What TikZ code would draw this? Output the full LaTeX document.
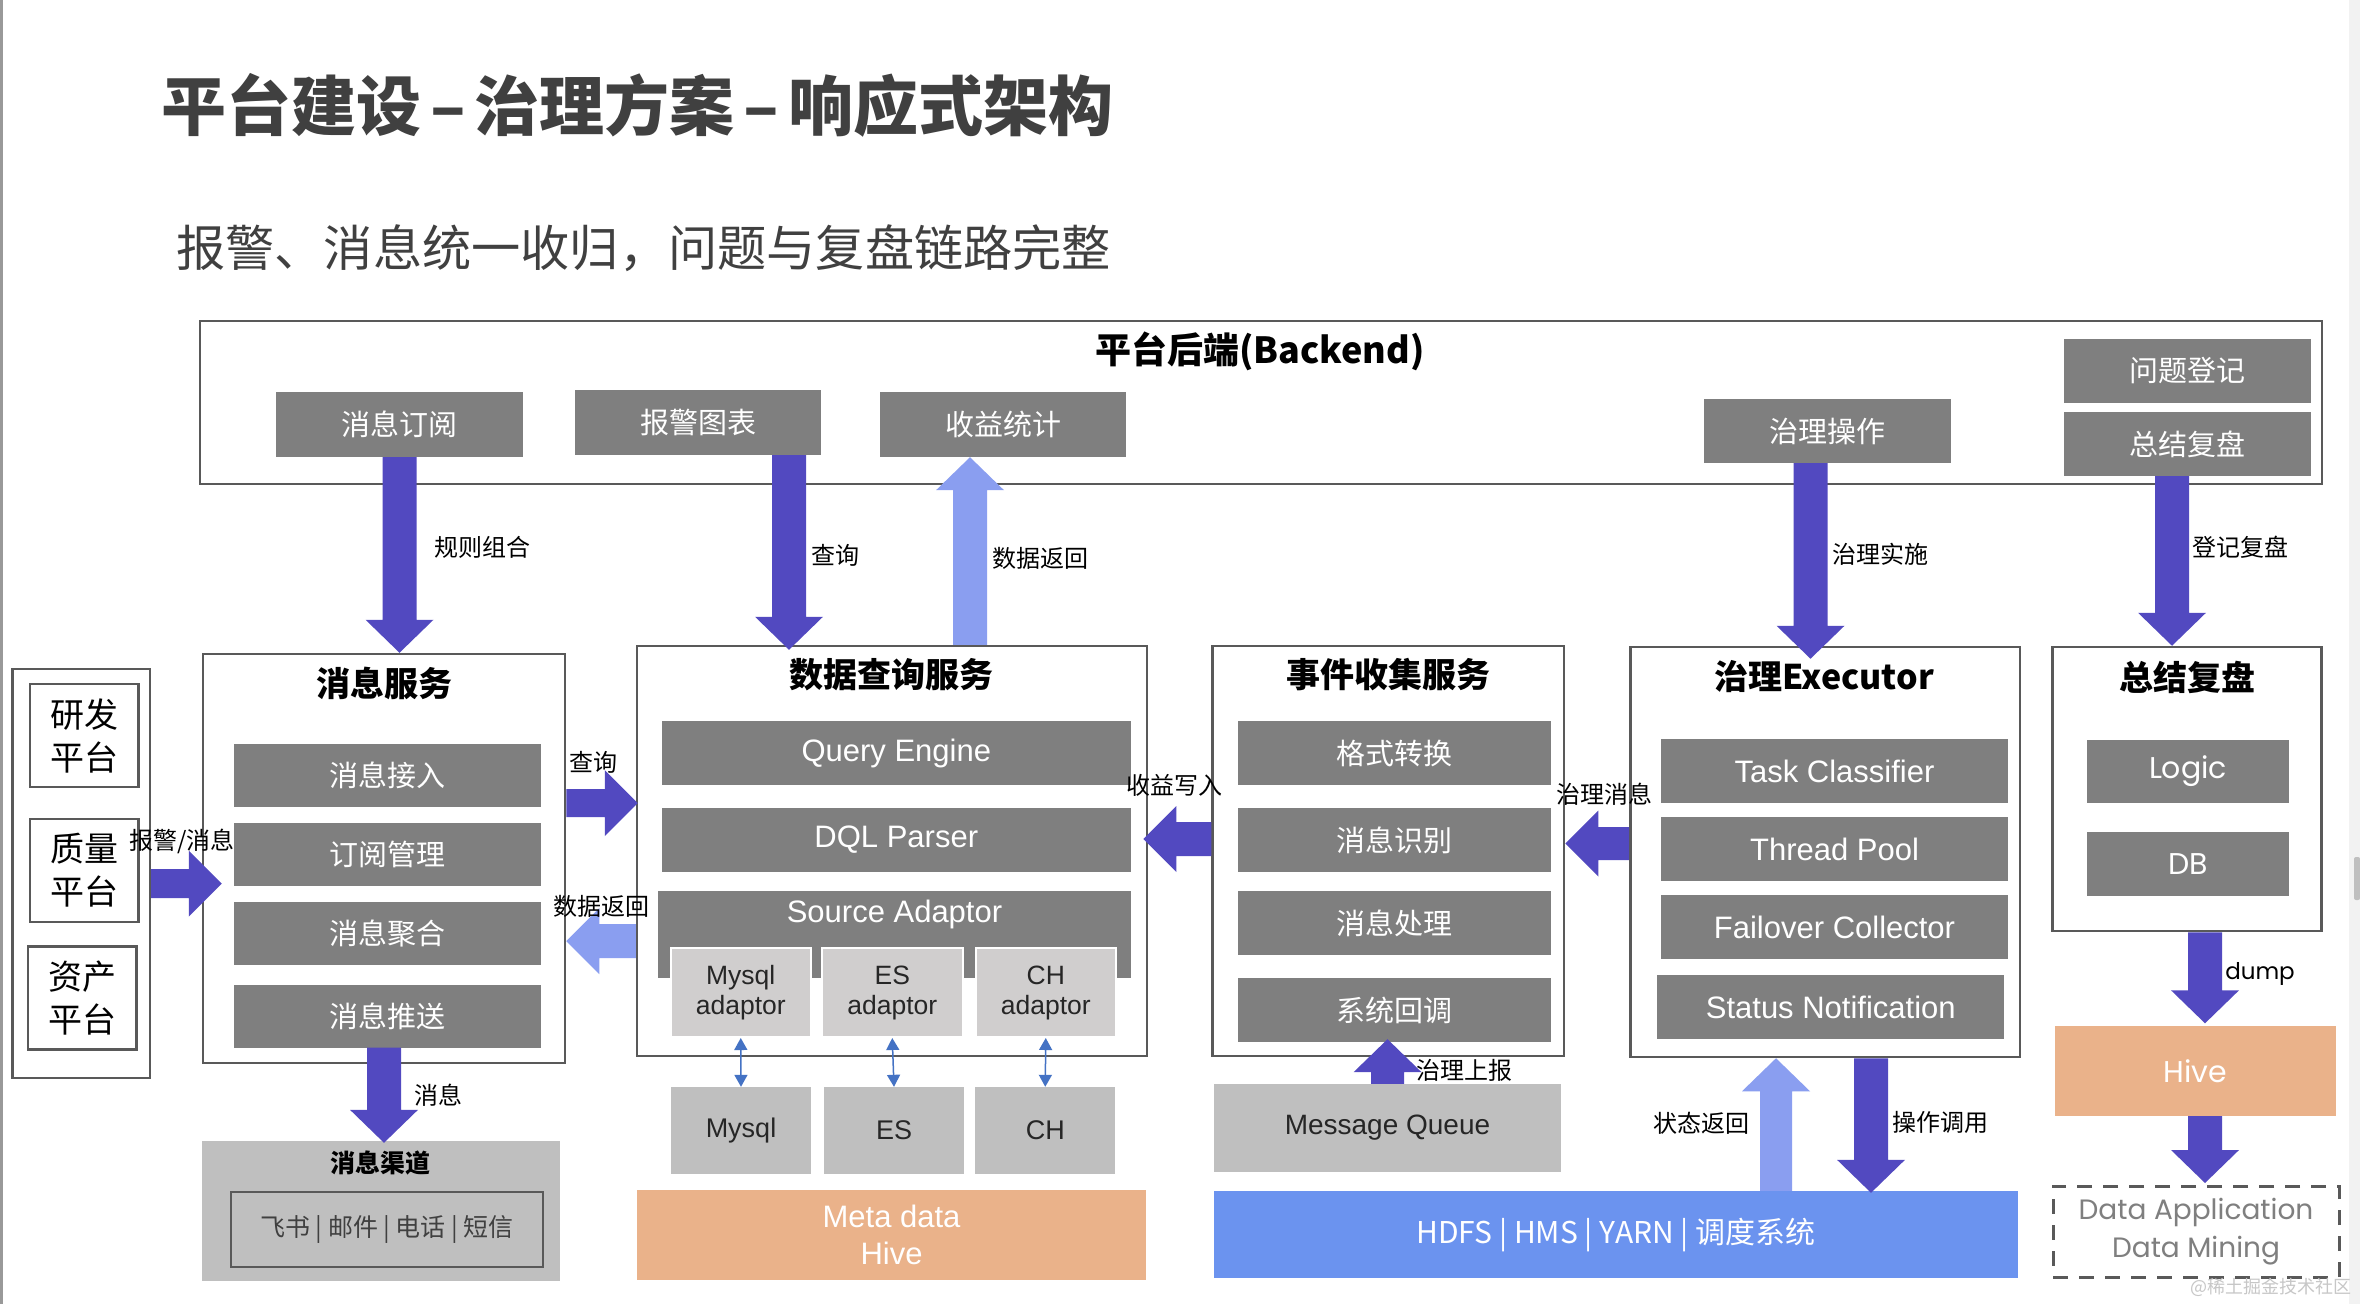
\documentclass[tikz,border=0pt]{standalone}
\usepackage{fontspec}
\setmainfont{Liberation Sans}
\newfontfamily\cjk{Noto Sans CJK SC}
\newfontfamily\geo{Poppins}
\usetikzlibrary{arrows.meta,calc}
\definecolor{boxgray}{RGB}{127,127,127}
\definecolor{framegray}{RGB}{89,89,89}
\definecolor{lgray}{RGB}{191,191,191}
\definecolor{adgray}{RGB}{208,206,206}
\definecolor{darkarrow}{RGB}{82,73,192}
\definecolor{lightarrow}{RGB}{138,158,240}
\definecolor{hdfsblue}{RGB}{107,147,239}
\definecolor{hiveorange}{RGB}{234,178,138}
\definecolor{smallblue}{RGB}{68,114,196}
\definecolor{titlegray}{RGB}{64,64,64}
\definecolor{darktext}{RGB}{38,38,38}
\newcommand{\fsz}[1]{\fontsize{#1}{#1}\selectfont}
\newcommand{\tdash}{\hspace{9pt}–\hspace{9pt}}
% block arrows: [half shaft]{colour}{start}{end}
\newcommand{\arrDown}[4][17]{\fill[#2] let \p1=(#3), \p2=(#4) in
 (\x1-#1pt,\y1) -- (\x1-#1pt,\y2+33pt) -- (\x1-34pt,\y2+33pt) -- (\x1,\y2) -- (\x1+34pt,\y2+33pt) -- (\x1+#1pt,\y2+33pt) -- (\x1+#1pt,\y1) -- cycle;}
\newcommand{\arrUp}[4][17]{\fill[#2] let \p1=(#3), \p2=(#4) in
 (\x1-#1pt,\y1) -- (\x1-#1pt,\y2-33pt) -- (\x1-34pt,\y2-33pt) -- (\x1,\y2) -- (\x1+34pt,\y2-33pt) -- (\x1+#1pt,\y2-33pt) -- (\x1+#1pt,\y1) -- cycle;}
\newcommand{\arrRight}[4][15]{\fill[#2] let \p1=(#3), \p2=(#4) in
 (\x1,\y1-#1pt) -- (\x2-33pt,\y1-#1pt) -- (\x2-33pt,\y1-33pt) -- (\x2,\y1) -- (\x2-33pt,\y1+33pt) -- (\x2-33pt,\y1+#1pt) -- (\x1,\y1+#1pt) -- cycle;}
\newcommand{\arrLeft}[4][17]{\fill[#2] let \p1=(#3), \p2=(#4) in
 (\x1,\y1-#1pt) -- (\x2+33pt,\y1-#1pt) -- (\x2+33pt,\y1-33pt) -- (\x2,\y1) -- (\x2+33pt,\y1+33pt) -- (\x2+33pt,\y1+#1pt) -- (\x1,\y1+#1pt) -- cycle;}
\tikzset{
 frame/.style={draw=framegray, line width=2.5pt, fill=white, inner sep=0pt},
 gbox/.style={fill=boxgray, text=white, inner sep=0pt, font=\cjk\fsz{29}},
 gboxl/.style={fill=boxgray, text=white, inner sep=0pt, font=\fsz{31}},
 gboxg/.style={fill=boxgray, text=white, inner sep=0pt, font=\geo\fsz{30}},
 ttl/.style={inner sep=0pt, font=\cjk\bfseries\fsz{34}},
 pbox/.style={draw=framegray, line width=2.5pt, fill=white, align=center, inner sep=0pt, font={\cjk\fontsize{34}{43}\selectfont}},
 abox/.style={fill=adgray, draw=white, line width=2pt, text=darktext, align=center, inner sep=0pt, font={\fontsize{26.5}{30}\selectfont}},
 lbox/.style={fill=lgray, text=darktext, inner sep=0pt, font=\fsz{27}},
 lab/.style={inner sep=0pt, font=\cjk\fsz{24}},
 smallarr/.style={draw=smallblue, line width=1.5pt, {Triangle[width=13pt,length=12pt]}-{Triangle[width=13pt,length=12pt]}}
}
\begin{document}
\begin{tikzpicture}[x=1pt,y=-1pt]
\useasboundingbox (0,0) rectangle (2360,1304);
\fill[white] (0,0) rectangle (2360,1304);
% page chrome
\fill[black!40] (0,0) rectangle (2.5,1304);
\fill[black!5] (2349,0) rectangle (2360,1304);
\fill[black!25, rounded corners=2pt] (2354,857) rectangle (2360,900);

% titles
\node[font=\cjk\bfseries\fsz{65}, text=titlegray, anchor=west, inner sep=0pt] (title) at (161,105) {平台建设\tdash 治理方案\tdash 响应式架构};
\node[font=\cjk\fsz{49.2}, text=titlegray, anchor=west, inner sep=0pt] (subtitle) at (176,248) {报警、消息统一收归，问题与复盘链路完整};

% backend
\node[frame, minimum width=2122pt, minimum height=163pt] (backend) at (1261,402.5) {};
\node[inner sep=0pt, font=\cjk\bfseries\fsz{36}] (backend-t) at (1260,351) {平台后端(Backend)};
\node[gbox, minimum width=247pt, minimum height=65pt] (sub) at (399.5,424.5) {消息订阅};
\node[gbox, minimum width=246pt, minimum height=65pt] (alarm) at (698,422.5) {报警图表};
\node[gbox, minimum width=246pt, minimum height=65pt] (income) at (1003,424.5) {收益统计};
\node[gbox, minimum width=247pt, minimum height=64pt] (gov) at (1827.5,431) {治理操作};
\node[gbox, minimum width=247pt, minimum height=64pt] (reg) at (2187.5,371) {问题登记};
\node[gbox, minimum width=247pt, minimum height=64pt] (sum) at (2187.5,444) {总结复盘};

% platforms
\node[frame, minimum width=137.5pt, minimum height=409pt] (plat) at (81,873.5) {};
\node[pbox, minimum width=108.5pt, minimum height=103pt] (rd) at (84,735.5) {研发\\平台};
\node[pbox, minimum width=108.5pt, minimum height=103pt] (qa) at (84,870.5) {质量\\平台};
\node[pbox, minimum width=108.5pt, minimum height=103pt] (asset) at (82,998) {资产\\平台};

% message service
\node[frame, minimum width=362pt, minimum height=409pt] (msgsvc) at (384,858.5) {};
\node[ttl] (msgsvc-t) at (384,683) {消息服务};
\node[gbox, minimum width=307pt, minimum height=63pt] (ingest) at (387.5,775.5) {消息接入};
\node[gbox, minimum width=307pt, minimum height=63pt] (subm) at (387.5,854) {订阅管理};
\node[gbox, minimum width=307pt, minimum height=63pt] (agg) at (387.5,933) {消息聚合};
\node[gbox, minimum width=307pt, minimum height=63pt] (push) at (387.5,1016) {消息推送};

% data query service
\node[frame, minimum width=510pt, minimum height=410pt] (dqs) at (892,851) {};
\node[ttl] (dqs-t) at (891,675) {数据查询服务};
\node[gboxl, minimum width=469pt, minimum height=64pt] (qe) at (896.3,753) {Query Engine};
\node[gboxl, minimum width=469pt, minimum height=64pt] (dql) at (896.3,840) {DQL Parser};
\node[fill=boxgray, inner sep=0pt, minimum width=473pt, minimum height=87pt] (sa) at (894.5,934.5) {};
\node[inner sep=0pt, text=white, font=\fsz{31}] (sa-t) at (894.5,914) {Source Adaptor};
\node[abox, minimum width=140.5pt, minimum height=89pt] (mysqlad) at (740.75,992.5) {Mysql\\adaptor};
\node[abox, minimum width=140.5pt, minimum height=89pt] (esad) at (892.25,992.5) {ES\\adaptor};
\node[abox, minimum width=140.5pt, minimum height=89pt] (chad) at (1045.75,992.5) {CH\\adaptor};
\node[lbox, minimum width=140pt, minimum height=87pt] (mysql) at (741,1130.5) {Mysql};
\node[lbox, minimum width=140pt, minimum height=87pt] (es) at (894,1130.5) {ES};
\node[lbox, minimum width=140pt, minimum height=87pt] (ch) at (1045.25,1130.5) {CH};
\node[fill=hiveorange, text=white, align=center, inner sep=0pt, minimum width=509pt, minimum height=90pt, font={\fontsize{31}{37}\selectfont}] (meta) at (891.5,1235) {Meta data\\Hive};
\draw[smallarr] (mysqlad.south) -- (mysql.north);
\draw[smallarr] (esad.south) -- (es.north);
\draw[smallarr] (chad.south) -- (ch.north);

% message channel
\node[fill=lgray, inner sep=0pt, minimum width=358pt, minimum height=140pt] (channel) at (381,1211) {};
\node[inner sep=0pt, font=\cjk\bfseries\fsz{25}] (channel-t) at (380,1163) {消息渠道};
\node[draw=framegray, line width=2.5pt, inner sep=0pt, minimum width=312pt, minimum height=75pt, font=\cjk\fsz{25}, text=titlegray] (chlist) at (387,1229.5) {飞书 | 邮件 | 电话 | 短信};

% event collection service
\node[frame, minimum width=351.4pt, minimum height=410pt] (ecs) at (1388.3,851) {};
\node[ttl] (ecs-t) at (1388,675) {事件收集服务};
\node[gbox, minimum width=313pt, minimum height=64pt] (fmt) at (1394.5,753) {格式转换};
\node[gbox, minimum width=313pt, minimum height=64pt] (recog) at (1394.5,840) {消息识别};
\node[gbox, minimum width=313pt, minimum height=64pt] (proc) at (1394.5,923) {消息处理};
\node[gbox, minimum width=313pt, minimum height=64pt] (callback) at (1394.5,1010) {系统回调};
\node[lbox, minimum width=347pt, minimum height=88pt, font=\fsz{28}] (mq) at (1387.5,1128) {Message Queue};
\node[fill=hdfsblue, text=white, inner sep=0pt, minimum width=804pt, minimum height=87pt, font=\cjk\fsz{30}] (hdfs) at (1616,1234.5) {HDFS | HMS | YARN | 调度系统};

% executor
\node[frame, minimum width=389.5pt, minimum height=410pt] (exe) at (1825,852) {};
\node[ttl] (exe-t) at (1824,677) {治理Executor};
\node[gboxl, minimum width=347pt, minimum height=64pt] (tc) at (1834.5,771) {Task Classifier};
\node[gboxl, minimum width=347pt, minimum height=64pt] (tp) at (1834.5,849) {Thread Pool};
\node[gboxl, minimum width=347pt, minimum height=64pt] (fc) at (1834.5,927) {Failover Collector};
\node[gboxl, minimum width=347pt, minimum height=64pt] (sn) at (1830.75,1007) {Status Notification};

% summary
\node[frame, minimum width=269pt, minimum height=284pt] (sumbox) at (2187,789) {};
\node[ttl] (sumbox-t) at (2187,677) {总结复盘};
\node[gboxg, minimum width=202pt, minimum height=63pt] (logic) at (2188,771.3) {Logic};
\node[gboxg, minimum width=202pt, minimum height=64pt] (db) at (2188,863.6) {DB};
\node[fill=hiveorange, text=white, inner sep=0pt, minimum width=281pt, minimum height=90.5pt, font=\geo\fsz{30}] (hive) at (2195.5,1070.75) {Hive};
\node[draw=framegray, line width=3pt, dash pattern=on 15pt off 11pt, text=boxgray, align=center, inner sep=0pt, minimum width=286pt, minimum height=91pt, font={\geo\fontsize{28}{38.5}\selectfont}] (dm) at (2196,1231.5) {Data Application\\Data Mining};
\node[inner sep=0pt, anchor=east, text=black!22, font=\cjk\fsz{18}] (wm) at (2352,1287) {@稀土掘金技术社区};

% block arrows
\arrDown{darkarrow}{sub.south}{msgsvc.north}
\arrDown{darkarrow}{[xshift=91pt]alarm.south}{[yshift=-5pt]dqs.north}
\arrUp{lightarrow}{[xshift=78pt]dqs.north}{income.south}
\arrDown{darkarrow}{[xshift=-17pt]gov.south}{[yshift=-13pt]exe.north}
\arrDown{darkarrow}{[xshift=-15.5pt]sum.south}{sumbox.north}
\arrRight[14.5]{darkarrow}{[yshift=-10pt]plat.east}{[xshift=20pt]msgsvc.west}
\arrRight[14]{darkarrow}{[yshift=55.5pt]msgsvc.east}{[xshift=2pt]dqs.west}
\arrLeft{lightarrow}{[yshift=-90pt]dqs.west}{msgsvc.east}
\arrLeft{darkarrow}{[yshift=12pt]ecs.west}{[xshift=-5pt]dqs.east}
\arrLeft[16.5]{darkarrow}{[yshift=8.5pt]exe.west}{ecs.east}
\arrDown{darkarrow}{[xshift=-3.5pt]push.south}{[yshift=-2pt]channel.north}
\arrUp[16.5]{darkarrow}{mq.north}{[yshift=3pt]callback.south}
\arrUp[16]{lightarrow}{[xshift=160pt]hdfs.north}{exe.south}
\arrDown{darkarrow}{[xshift=46pt]exe.south}{[yshift=-2pt]hdfs.north}
\arrDown{darkarrow}{[xshift=18pt]sumbox.south}{[yshift=2pt]hive.north}
\arrDown{darkarrow}{[xshift=9.5pt]hive.south}{[yshift=1.5pt]dm.north}

% arrow labels
\node[lab] (l1) at (482,547) {规则组合};
\node[lab] (l2) at (835,555) {查询};
\node[lab] (l3) at (1040.5,558) {数据返回};
\node[lab] (l4) at (1880,554) {治理实施};
\node[lab] (l5) at (2240,547) {登记复盘};
\node[lab] (l6) at (182,841) {报警/消息};
\node[lab] (l7) at (593.5,762) {查询};
\node[lab] (l8) at (601.6,906) {数据返回};
\node[lab] (l9) at (1174.5,785) {收益写入};
\node[lab] (l10) at (1604,794) {治理消息};
\node[lab] (l11) at (438,1095) {消息};
\node[lab] (l12) at (1464,1070) {治理上报};
\node[lab] (l13) at (1701.5,1123) {状态返回};
\node[lab] (l14) at (1940,1122) {操作调用};
\node[inner sep=0pt, font=\geo\fsz{23}] (l15) at (2260,974) {dump};
\end{tikzpicture}
\end{document}
